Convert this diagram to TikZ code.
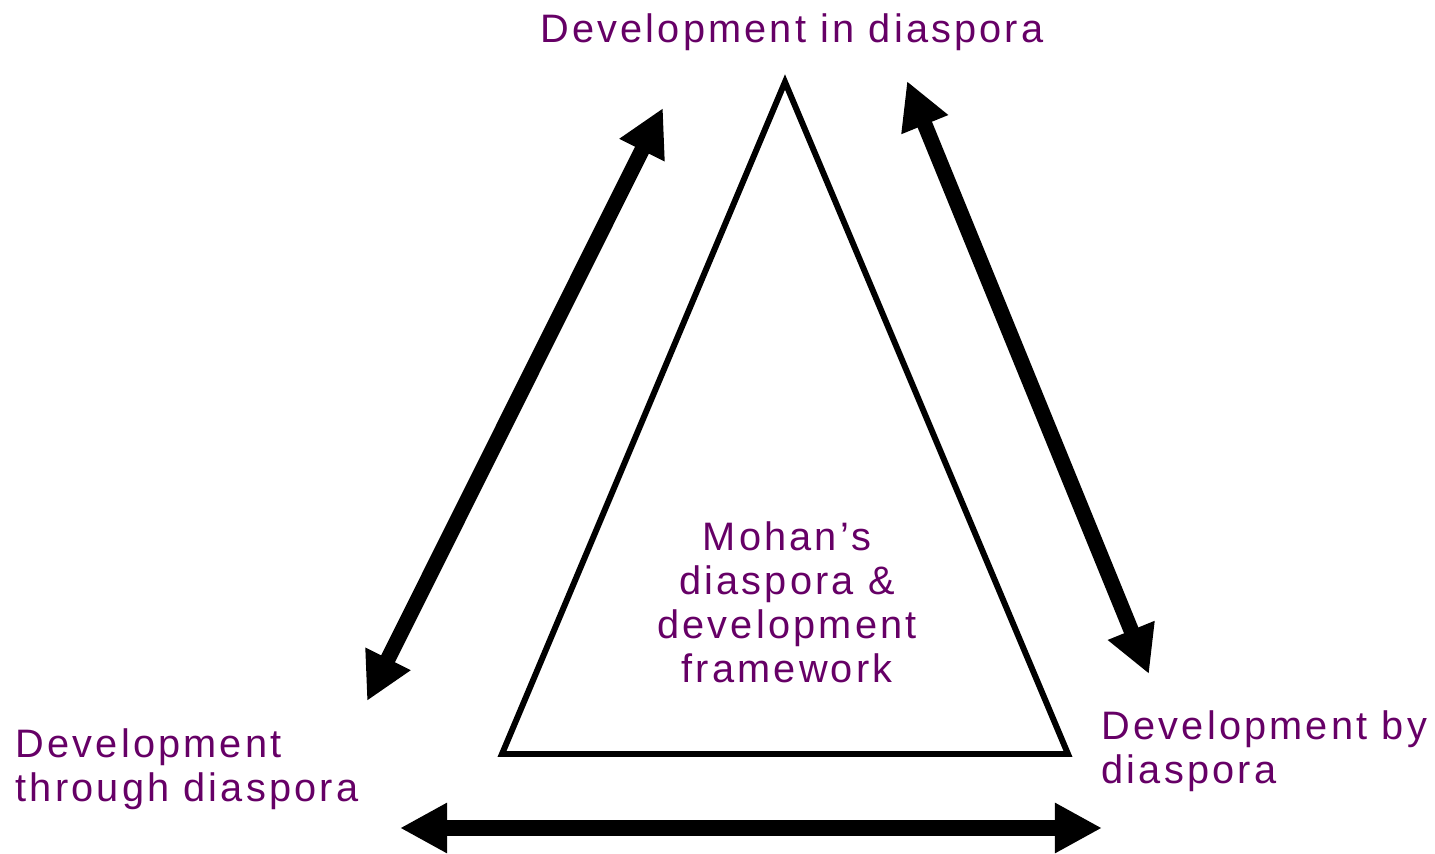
\documentclass[tikz,border=0pt]{standalone}
\usepackage{fontspec}
\setmainfont{Liberation Sans}[LetterSpace=8]
\usetikzlibrary{arrows.meta}
\definecolor{plum}{HTML}{660066}
\tikzset{
    label text/.style={text=plum, font=\fontsize{11.3}{12.5}\selectfont, inner sep=0pt},
    two way/.style={line width=4.4pt,
        {Triangle[length=13.4pt,width=13.4pt]}-{Triangle[length=13.4pt,width=13.4pt]}},
}

\begin{document}
\begin{tikzpicture}[x=0.01cm, y=-0.01cm]
    \useasboundingbox (0,0) rectangle (1435,854);
    % triangle in the middle
    \coordinate (apex) at (785,82);
    \coordinate (bl) at (502,754);
    \coordinate (br) at (1068,754);
    \draw[line width=1.7pt] (apex) -- (bl) -- (br) -- cycle;
    % arrow ends
    \coordinate (l1) at (367,701);
    \coordinate (l2) at (663,108);
    \coordinate (r1) at (907,81);
    \coordinate (r2) at (1149,674);
    \coordinate (b1) at (400,828);
    \coordinate (b2) at (1102,828);
    \draw[two way] (l1) -- (l2);
    \draw[two way] (r1) -- (r2);
    \draw[two way] (b1) -- (b2);
    % labels (base = last line)
    \node[label text, anchor=base] (top) at (792,42) {Development in diaspora};
    \node[label text, anchor=base west, align=left] (through) at (15,801) {Development\\through diaspora};
    \node[label text, anchor=base west, align=left] (by) at (1101,783) {Development by\\diaspora};
    \node[label text, anchor=base, align=center] (mohan) at (787,682) {Mohan’s\\diaspora \&\\development\\framework};
\end{tikzpicture}
\end{document}
